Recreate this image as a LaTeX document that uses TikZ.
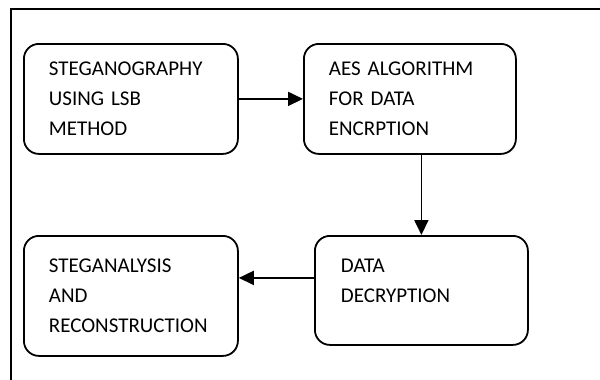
\documentclass[tikz,border=0pt]{standalone}
\usepackage{fontspec}
\setmainfont{Carlito}
\usetikzlibrary{arrows.meta}
\tikzset{
  stage/.style={anchor=north west, rectangle, rounded corners=15pt, draw=black, line width=1.8pt, align=left, inner xsep=25pt, inner ysep=4pt, font=\fontsize{21}{30}\selectfont},
  flow/.style={line width=1.8pt, -{Triangle[length=15pt,width=14pt]}}
}
\begin{document}
\begin{tikzpicture}[x=1pt,y=-1pt]
            \useasboundingbox (0,0) rectangle (600,380);
            \draw[line width=1.8pt] (11,380) -- (11,9) -- (600,9);
            \node (lsb) [stage, text width=164pt, minimum height=110pt] at (23,43) {STEGANOGRAPHY\\USING LSB\\METHOD};
            \node (aes) [stage, text width=162pt, minimum height=110pt] at (303,43) {AES ALGORITHM\\FOR DATA\\ENCRPTION};
            \node (rec) [stage, text width=164pt, minimum height=120pt] at (23,235) {STEGANALYSIS\\AND\\RECONSTRUCTION};
            \node (dec) [stage, inner xsep=26pt, text width=161pt, minimum height=109pt, text depth=50pt] at (314,235) {DATA\\DECRYPTION};
            \draw[flow] (lsb) -- (aes);
            \draw[flow] (aes.south -| dec.north) -- (dec.north);
            \draw[flow] ([yshift=12.5pt]dec.west) coordinate (back) -- (rec.east |- back);
        \end{tikzpicture}
\end{document}
